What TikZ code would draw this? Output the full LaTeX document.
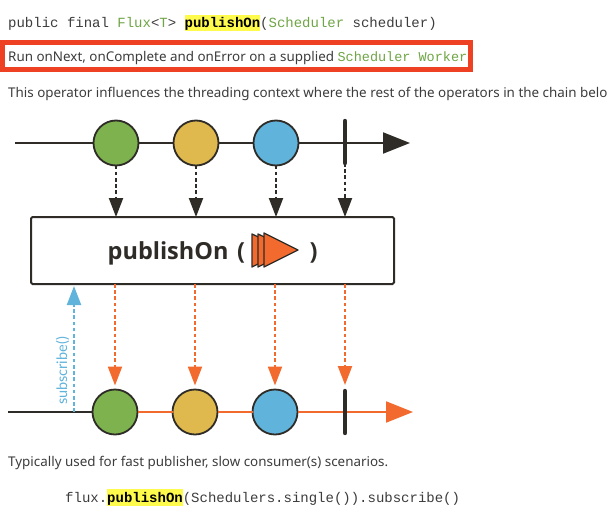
\documentclass[tikz,border=0pt]{standalone}
\usepackage{fontspec}
\setmainfont{Noto Sans}
\setmonofont{Liberation Mono}
\newfontfamily\titlefont{Open Sans}
\newfontfamily\subfont{Lato}
\usetikzlibrary{arrows.meta}
\definecolor{ink}{HTML}{2F2C28}
\definecolor{bodytext}{HTML}{3C3C3C}
\definecolor{codegreen}{HTML}{6FA545}
\definecolor{hlyellow}{HTML}{FFFB4D}
\definecolor{redframe}{HTML}{EE4023}
\definecolor{mgreen}{HTML}{7DB24E}
\definecolor{myellow}{HTML}{DFB94D}
\definecolor{mblue}{HTML}{60B4DC}
\definecolor{morange}{HTML}{F26A2E}
\newcommand{\hlcode}[1]{{\setlength{\fboxsep}{0pt}\colorbox{hlyellow}{\rule[-3.5pt]{0pt}{16.5pt}\textbf{\color{black}#1}}}}
\newcommand{\grn}[1]{\textcolor{codegreen}{#1}}
\tikzset{
  textline/.style={anchor=base west,inner sep=0pt,text=bodytext,font=\fontsize{13.4}{15}\selectfont},
  codeline/.style={anchor=base west,inner sep=0pt,text=bodytext,font=\ttfamily\fontsize{14}{16}\selectfont},
  titletext/.style={anchor=base west,inner sep=0pt,text=ink,font=\titlefont\bfseries\fontsize{23.5}{26}\selectfont},
  marble/.style={circle,draw=ink,line width=1.8pt,minimum size=45pt,inner sep=0pt,outer sep=0pt},
  tick/.style={draw=ink,line width=4.4pt,line cap=round},
  timeline/.style={draw=ink,line width=2pt},
  outtimeline/.style={draw=morange,line width=2pt},
  bigtip/.style={-{Triangle[length=27pt,width=21pt,#1]}},
  drop/.style={line width=2.1pt,dash pattern=on 3.6pt off 2.6pt},
  smalltip/.style={-{Triangle[length=19pt,width=14pt,#1]}},
  play/.style={draw=ink,fill=morange,line width=1.3pt,line join=round}
}
\begin{document}
\begin{tikzpicture}[x=1pt,y=-1pt]
\useasboundingbox[fill=white] (0,0) rectangle (609,516);
\clip (0,0) rectangle (609,516);
% text
\node[codeline] (sig) at (8,28) {public final \grn{Flux}<\grn{T}> \hlcode{publishOn}(\grn{Scheduler} scheduler)};
\node[draw=redframe,line width=5pt,minimum width=467.5pt,minimum height=27pt,anchor=north west,inner sep=0pt,outer sep=0pt] (frame) at (2.5,42.5) {};
\node[textline] (run) at (8,61.5) {Run onNext, onComplete and onError on a supplied \texttt{\fontsize{13.5}{16}\selectfont\grn{Scheduler Worker}}};
\node[textline] (influ) at (8,97) {This operator influences the threading context where the rest of the operators in the chain belo};
\node[textline] (typ) at (8,466.5) {Typically used for fast publisher, slow consumer(s) scenarios.};
\node[codeline] (code) at (65,502) {flux.\hlcode{publishOn}(Schedulers.single()).subscribe()};
% top timeline
\coordinate (tstart) at (15,143);
\coordinate (tend) at (410,143);
\draw[timeline,bigtip=ink] (tstart) -- (tend);
\node[marble,fill=mgreen] (a1) at (116,143) {};
\node[marble,fill=myellow] (a2) at (196,143) {};
\node[marble,fill=mblue] (a3) at (276,143) {};
\coordinate (abarT) at (345,121);
\coordinate (abarB) at (345,163);
\draw[tick] (abarT) -- (abarB);
% operator box
\node[draw=ink,line width=2pt,rounded corners=1.5pt,minimum width=363pt,minimum height=67pt,anchor=north west,inner sep=0pt,outer sep=0pt] (box) at (31,217) {};
\node[titletext] (title) at (107.5,259) {publishOn};
\node[titletext] (openp) at (237,259) {(};
\node[titletext] (closep) at (309.5,259) {)};
\draw[play] (252,234) -- (286,250) -- (252,267) -- cycle;
\draw[play] (258,234) -- (292,250) -- (258,267) -- cycle;
\draw[play] (264,233) -- (298,250) -- (264,267) -- cycle;
% top drops
\draw[drop,draw=ink,smalltip=ink] (a1.south) -- (a1.south |- box.north);
\draw[drop,draw=ink,smalltip=ink] (a2.south) -- (a2.south |- box.north);
\draw[drop,draw=ink,smalltip=ink] (a3.south) -- (a3.south |- box.north);
\draw[drop,draw=ink,smalltip=ink] (abarB) -- (abarB |- box.north);
% bottom timeline
\coordinate (bstart) at (8,412);
\coordinate (bend) at (413,412);
\node[marble,fill=mgreen] (b1) at (115,412) {};
\node[marble,fill=myellow] (b2) at (195,412) {};
\node[marble,fill=mblue] (b3) at (275,412) {};
\coordinate (bbarT) at (345,391);
\coordinate (bbarB) at (345,433);
\draw[timeline] (bstart) -- (b1.west);
\draw[outtimeline] (b1.east) -- (b2.west);
\draw[outtimeline] (b2.east) -- (b3.west);
\draw[outtimeline,bigtip=morange] (b3.east) -- (bend);
\draw[tick] (bbarT) -- (bbarB);
% orange drops
\draw[drop,draw=morange,smalltip=morange,shorten >=4pt] (b1.north |- box.south) -- (b1.north);
\draw[drop,draw=morange,smalltip=morange,shorten >=4pt] (b2.north |- box.south) -- (b2.north);
\draw[drop,draw=morange,smalltip=morange,shorten >=4pt] (b3.north |- box.south) -- (b3.north);
\draw[drop,draw=morange,smalltip=morange,shorten >=6pt] (bbarT |- box.south) -- (bbarT);
% subscribe
\coordinate (sub) at (74,412);
\draw[drop,draw=mblue,smalltip=mblue,shorten >=2pt] (sub) -- (sub |- box.south);
\node[rotate=90,inner sep=0pt,text=mblue,font=\subfont\fontsize{14.5}{16}\selectfont] (sublabel) at (62.5,371) {subscribe()};
\end{tikzpicture}
\end{document}
